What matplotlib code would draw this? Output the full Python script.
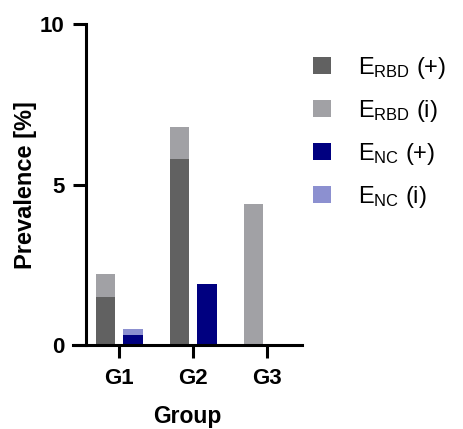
import matplotlib
matplotlib.use("Agg")
import matplotlib.pyplot as plt
from matplotlib.patches import Patch
import numpy as np

plt.rcParams['font.family'] = ['Liberation Sans', 'DejaVu Sans']
plt.rcParams['mathtext.fontset'] = 'custom'
plt.rcParams['mathtext.rm'] = 'Liberation Sans'
plt.rcParams['mathtext.it'] = 'Liberation Sans:italic'
plt.rcParams['mathtext.bf'] = 'Liberation Sans:bold'

groups = ["G1", "G2", "G3"]
rbd_pos = [1.5, 5.8, 0.0]
rbd_ind = [0.7, 1.0, 4.4]
nc_pos = [0.3, 1.9, 0.0]
nc_ind = [0.2, 0.0, 0.0]
yticks = [0, 5, 10]
legend_labels = [r"$\mathregular{E_{RBD}}$ (+)", r"$\mathregular{E_{RBD}}$ (i)",
                 r"$\mathregular{E_{NC}}$ (+)", r"$\mathregular{E_{NC}}$ (i)"]

c_rbd_pos = "#616161"
c_rbd_ind = "#a1a1a5"
c_nc_pos = "#000080"
c_nc_ind = "#8c90d0"

fig = plt.figure(figsize=(4.63, 4.29), dpi=100)
ax = fig.add_axes([73/463, 1-345/429, 229/463, (345-24.5)/429])

x = np.arange(len(groups))
w = 0.26
off_r, off_n = -0.18, 0.19
ax.bar(x + off_r, rbd_pos, w, color=c_rbd_pos, zorder=3)
ax.bar(x + off_r, rbd_ind, w, bottom=rbd_pos, color=c_rbd_ind, zorder=3)
ax.bar(x + off_n, nc_pos, w, color=c_nc_pos, zorder=3)
ax.bar(x + off_n, nc_ind, w, bottom=nc_pos, color=c_nc_ind, zorder=3)

ax.set_xlim(-0.622, 2.473)
ax.set_ylim(0, 10)
ax.spines['left'].set_position(('data', -0.446))
ax.spines['top'].set_visible(False)
ax.spines['right'].set_visible(False)
for s in ['left', 'bottom']:
    ax.spines[s].set_linewidth(2.2)
    ax.spines[s].set_zorder(4)
ax.set_xticks(x)
ax.set_xticklabels(groups, fontsize=16, fontweight='bold')
ax.set_yticks(yticks)
ax.set_yticklabels([str(t) for t in yticks], fontsize=16, fontweight='bold')
ax.tick_params(axis='both', length=9.4, width=2.2, direction='out')
ax.tick_params(axis='x', pad=7)
ax.tick_params(axis='y', pad=6)
ax.set_xlabel("Group", fontsize=16.5, fontweight='bold', labelpad=11.5)
ax.set_ylabel("Prevalence [%]", fontsize=17, fontweight='bold', labelpad=2)

handles = [Patch(facecolor=c, edgecolor='none') for c in [c_rbd_pos, c_rbd_ind, c_nc_pos, c_nc_ind]]
fig.legend(handles, legend_labels, loc='upper left', bbox_to_anchor=(294/463, 1-36/429),
           frameon=False, fontsize=17, handlelength=0.76, handleheight=0.76,
           handletextpad=1.15, labelspacing=0.72, borderpad=0.3)

fig.savefig("out.png", dpi=100)
